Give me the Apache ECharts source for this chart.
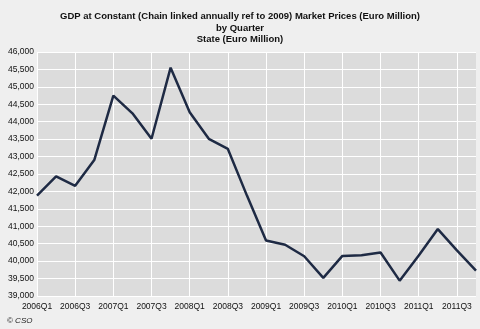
<!DOCTYPE html>
<html>
<head>
<meta charset="utf-8">
<script src="https://cdn.jsdelivr.net/npm/echarts@6/dist/echarts.min.js"></script>
<style>
html,body{margin:0;padding:0;background:#efefef;}
#c{width:480px;height:329px;}
</style>
</head>
<body>
<div id="c"></div>
<script>
const quarters = ['2006Q1','2006Q2','2006Q3','2006Q4','2007Q1','2007Q2','2007Q3','2007Q4',
  '2008Q1','2008Q2','2008Q3','2008Q4','2009Q1','2009Q2','2009Q3','2009Q4',
  '2010Q1','2010Q2','2010Q3','2010Q4','2011Q1','2011Q2','2011Q3','2011Q4'];
const gdp = [41880, 42430, 42160, 42900, 44750, 44240, 43510, 45550,
  44270, 43510, 43220, 41880, 40590, 40470, 40140, 39520,
  40150, 40170, 40250, 39440, 40160, 40920, 40310, 39730];
const titleLines = ['GDP at Constant (Chain linked annually ref to 2009) Market Prices (Euro Million)', 'by Quarter', 'State (Euro Million)'];
const yMin = 39000, yMax = 46000, yStep = 500;

const chart = echarts.init(document.getElementById('c'), null, {renderer: 'canvas'});
chart.setOption({
  backgroundColor: '#efefef',
  animation: false,
  title: {
    text: titleLines.join('\n'),
    left: 'center',
    top: 6,
    textStyle: {fontFamily: 'Liberation Sans', fontSize: 9.5, fontWeight: 'bold', color: '#111', lineHeight: 11.3}
  },
  graphic: [{
    type: 'text', left: 7, top: 317,
    style: {text: '© CSO', font: 'italic 8px "Liberation Sans"', fill: '#222'}
  }],
  grid: {left: 37, right: 4, top: 52, bottom: 33, show: true, backgroundColor: '#dcdcdc', borderWidth: 0},
  xAxis: {
    type: 'category',
    data: quarters,
    boundaryGap: false,
    axisLine: {show: false},
    axisTick: {show: false},
    axisLabel: {interval: 1, margin: 6, fontFamily: 'Liberation Sans', fontSize: 8.5, color: '#111'},
    splitLine: {show: true, interval: 1, lineStyle: {color: '#ffffff', width: 1}}
  },
  yAxis: {
    type: 'value',
    min: yMin, max: yMax, interval: yStep,
    axisLine: {show: false},
    axisTick: {show: false},
    axisLabel: {margin: 3, fontFamily: 'Liberation Sans', fontSize: 8.5, color: '#111',
      formatter: v => v.toLocaleString('en-US')},
    splitLine: {show: true, lineStyle: {color: '#ffffff', width: 1}}
  },
  series: [{
    type: 'line',
    data: gdp,
    symbol: 'none',
    lineStyle: {color: '#1e2a44', width: 2.5},
    itemStyle: {color: '#1e2a44'}
  }]
});
</script>
</body>
</html>
